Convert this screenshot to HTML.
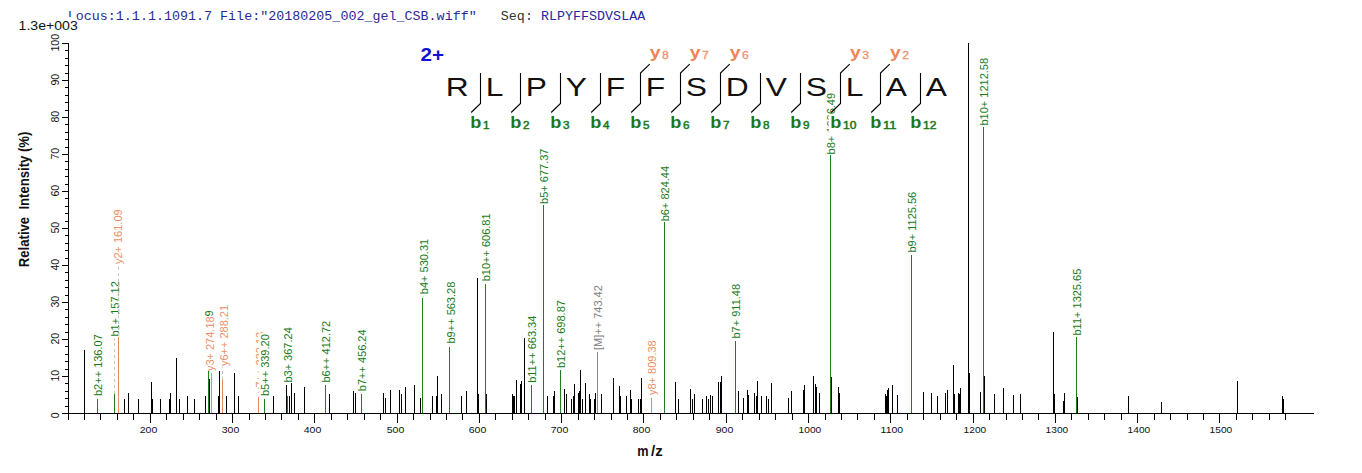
<!DOCTYPE html>
<html><head><meta charset="utf-8"><title>Spectrum</title>
<style>html,body{margin:0;padding:0;background:#fff;}body{width:1362px;height:473px;overflow:hidden;font-family:"Liberation Sans",sans-serif;}svg{display:block;}text{font-family:"Liberation Sans",sans-serif;}.m{font-family:"Liberation Mono",monospace;}</style>
</head><body>
<svg width="1362" height="473" viewBox="0 0 1362 473">
<rect width="1362" height="473" fill="#fff"/>
<text class="m" x="67.70" y="19.8" font-size="13.33" fill="#2a2a96" xml:space="preserve" textLength="409.0" lengthAdjust="spacing">Locus:1.1.1.1091.7 File:&quot;20180205_002_gel_CSB.wiff&quot;</text>
<text class="m" x="500.78" y="19.8" font-size="13.33" fill="#333" xml:space="preserve" textLength="32.1" lengthAdjust="spacing">Seq:</text>
<text class="m" x="540.88" y="19.8" font-size="13.33" fill="#2626a0" xml:space="preserve" textLength="104.3" lengthAdjust="spacing">RLPYFFSDVSLAA</text>
<rect x="17" y="17" width="60" height="15.5" fill="#fff"/>
<text x="18.6" y="30" font-size="12.3" fill="#111" textLength="59.2" lengthAdjust="spacingAndGlyphs">1.3e+003</text>
<g font-size="11">
<rect x="92.3" y="333.2" width="12.5" height="63.8" fill="#fff"/>
<text transform="translate(102.3,396.0) rotate(-90)" fill="#1a7a1a">b2++ 136.07</text>
<rect x="109.2" y="280.1" width="12.5" height="57.4" fill="#fff"/>
<line x1="114.5" y1="394.0" x2="114.5" y2="338.0" stroke="#c4c4c4" stroke-width="1" stroke-dasharray="3,3" shape-rendering="crispEdges"/>
<text transform="translate(119.2,336.5) rotate(-90)" fill="#1a7a1a">b1+ 157.12</text>
<rect x="112.0" y="208.4" width="12.5" height="56.7" fill="#fff"/>
<line x1="118.5" y1="336.0" x2="118.5" y2="265.0" stroke="#c4c4c4" stroke-width="1" stroke-dasharray="3,3" shape-rendering="crispEdges"/>
<text transform="translate(122.0,264.1) rotate(-90)" fill="#ea8f66">y2+ 161.09</text>
<rect x="204.4" y="315.4" width="12.5" height="56.7" fill="#fff"/>
<text transform="translate(214.4,371.1) rotate(-90)" fill="#ea8f66">y3+ 274.18</text>
<rect x="217.8" y="303.9" width="12.5" height="63.2" fill="#fff"/>
<line x1="222.5" y1="380.0" x2="222.5" y2="367.0" stroke="#c4c4c4" stroke-width="1" stroke-dasharray="3,3" shape-rendering="crispEdges"/>
<text transform="translate(227.8,366.1) rotate(-90)" fill="#ea8f66">y6++ 288.21</text>
<rect x="253.5" y="330.8" width="12.5" height="63.2" fill="#fff"/>
<text transform="translate(263.5,393.0) rotate(-90)" fill="#ea8f66">y7++ 332.13</text>
<rect x="258.8" y="333.2" width="12.5" height="63.8" fill="#fff"/>
<text transform="translate(268.8,396.0) rotate(-90)" fill="#1a7a1a">b5++ 339.20</text>
<rect x="282.0" y="326.2" width="12.5" height="57.4" fill="#fff"/>
<text transform="translate(292.0,382.6) rotate(-90)" fill="#1a7a1a">b3+ 367.24</text>
<rect x="320.4" y="319.8" width="12.5" height="63.8" fill="#fff"/>
<text transform="translate(330.4,382.6) rotate(-90)" fill="#1a7a1a">b6++ 412.72</text>
<rect x="356.4" y="328.4" width="12.5" height="63.8" fill="#fff"/>
<text transform="translate(366.4,391.2) rotate(-90)" fill="#1a7a1a">b7++ 456.24</text>
<rect x="417.5" y="237.8" width="12.5" height="57.4" fill="#fff"/>
<text transform="translate(427.5,294.2) rotate(-90)" fill="#1a7a1a">b4+ 530.31</text>
<rect x="444.5" y="280.7" width="12.5" height="63.8" fill="#fff"/>
<text transform="translate(454.5,343.5) rotate(-90)" fill="#1a7a1a">b9++ 563.28</text>
<rect x="480.4" y="212.4" width="12.5" height="69.9" fill="#fff"/>
<text transform="translate(490.4,281.3) rotate(-90)" fill="#1a7a1a">b10++ 606.81</text>
<rect x="526.3" y="313.9" width="12.5" height="69.9" fill="#fff"/>
<text transform="translate(536.3,382.8) rotate(-90)" fill="#1a7a1a">b11++ 663.34</text>
<rect x="538.4" y="147.5" width="12.5" height="57.4" fill="#fff"/>
<text transform="translate(548.4,203.9) rotate(-90)" fill="#1a7a1a">b5+ 677.37</text>
<rect x="555.4" y="299.1" width="12.5" height="69.9" fill="#fff"/>
<text transform="translate(565.4,368.0) rotate(-90)" fill="#1a7a1a">b12++ 698.87</text>
<rect x="592.3" y="284.2" width="12.5" height="66.8" fill="#fff"/>
<text transform="translate(602.3,350.0) rotate(-90)" fill="#808080">[M]++ 743.42</text>
<rect x="646.4" y="339.3" width="12.5" height="56.7" fill="#fff"/>
<text transform="translate(656.4,395.0) rotate(-90)" fill="#ea8f66">y8+ 809.38</text>
<rect x="659.4" y="164.9" width="12.5" height="57.4" fill="#fff"/>
<text transform="translate(669.4,221.3) rotate(-90)" fill="#1a7a1a">b6+ 824.44</text>
<rect x="730.2" y="282.1" width="12.5" height="57.4" fill="#fff"/>
<text transform="translate(740.2,338.5) rotate(-90)" fill="#1a7a1a">b7+ 911.48</text>
<rect x="825.3" y="91.9" width="12.5" height="63.5" fill="#fff"/>
<text transform="translate(835.3,154.4) rotate(-90)" fill="#1a7a1a">b8+ 1026.49</text>
<rect x="906.4" y="190.0" width="12.5" height="63.5" fill="#fff"/>
<text transform="translate(916.4,252.5) rotate(-90)" fill="#1a7a1a">b9+ 1125.56</text>
<rect x="978.3" y="56.9" width="12.5" height="69.6" fill="#fff"/>
<text transform="translate(988.3,125.5) rotate(-90)" fill="#1a7a1a">b10+ 1212.58</text>
<rect x="1071.4" y="266.9" width="12.5" height="69.6" fill="#fff"/>
<text transform="translate(1081.4,335.5) rotate(-90)" fill="#1a7a1a">b11+ 1325.65</text>
<text transform="translate(212.9,316.4) rotate(-90)" fill="#1a7a1a">9</text>
</g>
<g shape-rendering="crispEdges">
<rect x="84" y="350.0" width="1" height="63.0" fill="#000"/>
<rect x="97" y="399.0" width="1" height="14.0" fill="#1e7d1e"/>
<rect x="114" y="394.0" width="1" height="19.0" fill="#1e7d1e"/>
<rect x="118" y="337.0" width="1" height="76.0" fill="#e8895c"/>
<rect x="124" y="399.0" width="1" height="14.0" fill="#000"/>
<rect x="128" y="393.0" width="1" height="20.0" fill="#000"/>
<rect x="138" y="399.0" width="1" height="14.0" fill="#000"/>
<rect x="151" y="382.0" width="1" height="31.0" fill="#000"/>
<rect x="152" y="399.0" width="1" height="14.0" fill="#000"/>
<rect x="160" y="399.0" width="1" height="14.0" fill="#000"/>
<rect x="169" y="399.0" width="1" height="14.0" fill="#000"/>
<rect x="170" y="393.0" width="1" height="20.0" fill="#000"/>
<rect x="176" y="358.0" width="1" height="55.0" fill="#000"/>
<rect x="179" y="399.0" width="1" height="14.0" fill="#000"/>
<rect x="187" y="396.0" width="1" height="17.0" fill="#000"/>
<rect x="194" y="399.0" width="1" height="14.0" fill="#000"/>
<rect x="205" y="396.0" width="1" height="17.0" fill="#000"/>
<rect x="208" y="371.0" width="1" height="42.0" fill="#1e7d1e"/>
<rect x="209" y="379.0" width="1" height="34.0" fill="#000"/>
<rect x="211" y="373.0" width="1" height="40.0" fill="#e8895c"/>
<rect x="218" y="396.0" width="1" height="17.0" fill="#000"/>
<rect x="219" y="371.0" width="1" height="42.0" fill="#000"/>
<rect x="222" y="380.0" width="1" height="33.0" fill="#e8895c"/>
<rect x="226" y="396.0" width="1" height="17.0" fill="#000"/>
<rect x="234" y="373.0" width="1" height="40.0" fill="#000"/>
<rect x="238" y="396.0" width="1" height="17.0" fill="#000"/>
<rect x="258" y="397.0" width="1" height="16.0" fill="#e8895c"/>
<rect x="264" y="399.0" width="1" height="14.0" fill="#1e7d1e"/>
<rect x="273" y="396.0" width="1" height="17.0" fill="#000"/>
<rect x="286" y="385.0" width="1" height="28.0" fill="#000"/>
<rect x="287" y="396.0" width="1" height="17.0" fill="#1e7d1e"/>
<rect x="289" y="396.0" width="1" height="17.0" fill="#000"/>
<rect x="291" y="383.0" width="1" height="30.0" fill="#000"/>
<rect x="294" y="393.0" width="1" height="20.0" fill="#000"/>
<rect x="304" y="387.0" width="1" height="26.0" fill="#000"/>
<rect x="325" y="385.0" width="1" height="28.0" fill="#1e7d1e"/>
<rect x="329" y="394.0" width="1" height="19.0" fill="#000"/>
<rect x="353" y="391.0" width="1" height="22.0" fill="#000"/>
<rect x="355" y="393.0" width="1" height="20.0" fill="#000"/>
<rect x="361" y="394.0" width="1" height="19.0" fill="#1e7d1e"/>
<rect x="383" y="393.0" width="1" height="20.0" fill="#000"/>
<rect x="385" y="398.0" width="1" height="15.0" fill="#000"/>
<rect x="390" y="390.0" width="1" height="23.0" fill="#000"/>
<rect x="399" y="390.0" width="1" height="23.0" fill="#000"/>
<rect x="401" y="394.0" width="1" height="19.0" fill="#000"/>
<rect x="405" y="387.0" width="1" height="26.0" fill="#000"/>
<rect x="414" y="385.0" width="1" height="28.0" fill="#000"/>
<rect x="420" y="398.0" width="1" height="15.0" fill="#000"/>
<rect x="422" y="298.0" width="1" height="115.0" fill="#1e7d1e"/>
<rect x="432" y="396.0" width="1" height="17.0" fill="#000"/>
<rect x="436" y="396.0" width="1" height="17.0" fill="#000"/>
<rect x="437" y="376.0" width="1" height="37.0" fill="#000"/>
<rect x="441" y="394.0" width="1" height="19.0" fill="#000"/>
<rect x="449" y="347.0" width="1" height="66.0" fill="#1e7d1e"/>
<rect x="461" y="396.0" width="1" height="17.0" fill="#000"/>
<rect x="466" y="391.0" width="1" height="22.0" fill="#000"/>
<rect x="477" y="278.0" width="1" height="135.0" fill="#000"/>
<rect x="478" y="394.0" width="1" height="19.0" fill="#000"/>
<rect x="485" y="284.0" width="1" height="129.0" fill="#1e7d1e"/>
<rect x="486" y="394.0" width="1" height="19.0" fill="#000"/>
<rect x="512" y="394.0" width="1" height="19.0" fill="#000"/>
<rect x="513" y="396.0" width="1" height="17.0" fill="#000"/>
<rect x="514" y="396.0" width="1" height="17.0" fill="#000"/>
<rect x="516" y="380.0" width="1" height="33.0" fill="#000"/>
<rect x="520" y="384.0" width="1" height="29.0" fill="#000"/>
<rect x="521" y="381.0" width="1" height="32.0" fill="#000"/>
<rect x="524" y="338.0" width="1" height="75.0" fill="#000"/>
<rect x="531" y="385.0" width="1" height="28.0" fill="#1e7d1e"/>
<rect x="543" y="205.0" width="1" height="208.0" fill="#1e7d1e"/>
<rect x="547" y="396.0" width="1" height="17.0" fill="#000"/>
<rect x="553" y="396.0" width="1" height="17.0" fill="#000"/>
<rect x="554" y="391.0" width="1" height="22.0" fill="#000"/>
<rect x="560" y="370.0" width="1" height="43.0" fill="#1e7d1e"/>
<rect x="564" y="389.0" width="1" height="24.0" fill="#000"/>
<rect x="566" y="394.0" width="1" height="19.0" fill="#000"/>
<rect x="571" y="399.0" width="1" height="14.0" fill="#000"/>
<rect x="573" y="396.0" width="1" height="17.0" fill="#000"/>
<rect x="574" y="384.0" width="1" height="29.0" fill="#000"/>
<rect x="578" y="393.0" width="1" height="20.0" fill="#000"/>
<rect x="579" y="391.0" width="1" height="22.0" fill="#000"/>
<rect x="580" y="370.0" width="1" height="43.0" fill="#000"/>
<rect x="582" y="399.0" width="1" height="14.0" fill="#000"/>
<rect x="585" y="383.0" width="1" height="30.0" fill="#000"/>
<rect x="589" y="394.0" width="1" height="19.0" fill="#000"/>
<rect x="590" y="399.0" width="1" height="14.0" fill="#000"/>
<rect x="594" y="399.0" width="1" height="14.0" fill="#000"/>
<rect x="595" y="393.0" width="1" height="20.0" fill="#000"/>
<rect x="597" y="352.0" width="1" height="61.0" fill="#8a8a8a"/>
<rect x="601" y="394.0" width="1" height="19.0" fill="#000"/>
<rect x="613" y="378.0" width="1" height="35.0" fill="#000"/>
<rect x="619" y="386.0" width="1" height="27.0" fill="#000"/>
<rect x="620" y="396.0" width="1" height="17.0" fill="#000"/>
<rect x="626" y="396.0" width="1" height="17.0" fill="#000"/>
<rect x="630" y="390.0" width="1" height="23.0" fill="#000"/>
<rect x="631" y="399.0" width="1" height="14.0" fill="#000"/>
<rect x="638" y="399.0" width="1" height="14.0" fill="#000"/>
<rect x="640" y="399.0" width="1" height="14.0" fill="#000"/>
<rect x="641" y="378.0" width="1" height="35.0" fill="#000"/>
<rect x="651" y="398.0" width="1" height="15.0" fill="#e8895c"/>
<rect x="664" y="222.0" width="1" height="191.0" fill="#1e7d1e"/>
<rect x="675" y="382.0" width="1" height="31.0" fill="#000"/>
<rect x="678" y="399.0" width="1" height="14.0" fill="#000"/>
<rect x="690" y="389.0" width="1" height="24.0" fill="#000"/>
<rect x="692" y="399.0" width="1" height="14.0" fill="#000"/>
<rect x="694" y="394.0" width="1" height="19.0" fill="#000"/>
<rect x="702" y="399.0" width="1" height="14.0" fill="#000"/>
<rect x="706" y="396.0" width="1" height="17.0" fill="#000"/>
<rect x="708" y="399.0" width="1" height="14.0" fill="#000"/>
<rect x="710" y="395.0" width="1" height="18.0" fill="#000"/>
<rect x="712" y="396.0" width="1" height="17.0" fill="#000"/>
<rect x="718" y="382.0" width="1" height="31.0" fill="#000"/>
<rect x="720" y="382.0" width="1" height="31.0" fill="#000"/>
<rect x="721" y="376.0" width="1" height="37.0" fill="#000"/>
<rect x="735" y="341.0" width="1" height="72.0" fill="#1e7d1e"/>
<rect x="738" y="391.0" width="1" height="22.0" fill="#000"/>
<rect x="743" y="398.0" width="1" height="15.0" fill="#000"/>
<rect x="747" y="390.0" width="1" height="23.0" fill="#000"/>
<rect x="748" y="395.0" width="1" height="18.0" fill="#000"/>
<rect x="754" y="393.0" width="1" height="20.0" fill="#000"/>
<rect x="756" y="396.0" width="1" height="17.0" fill="#000"/>
<rect x="757" y="381.0" width="1" height="32.0" fill="#000"/>
<rect x="761" y="396.0" width="1" height="17.0" fill="#000"/>
<rect x="766" y="396.0" width="1" height="17.0" fill="#000"/>
<rect x="768" y="399.0" width="1" height="14.0" fill="#000"/>
<rect x="771" y="383.0" width="1" height="30.0" fill="#000"/>
<rect x="788" y="398.0" width="1" height="15.0" fill="#000"/>
<rect x="791" y="391.0" width="1" height="22.0" fill="#000"/>
<rect x="803" y="390.0" width="1" height="23.0" fill="#000"/>
<rect x="804" y="385.0" width="1" height="28.0" fill="#000"/>
<rect x="813" y="376.0" width="1" height="37.0" fill="#000"/>
<rect x="815" y="384.0" width="1" height="29.0" fill="#000"/>
<rect x="816" y="387.0" width="1" height="26.0" fill="#000"/>
<rect x="819" y="393.0" width="1" height="20.0" fill="#000"/>
<rect x="830" y="155.0" width="1" height="258.0" fill="#1e7d1e"/>
<rect x="831" y="377.0" width="1" height="36.0" fill="#000"/>
<rect x="838" y="387.0" width="1" height="26.0" fill="#000"/>
<rect x="839" y="393.0" width="1" height="20.0" fill="#000"/>
<rect x="885" y="394.0" width="1" height="19.0" fill="#000"/>
<rect x="886" y="396.0" width="1" height="17.0" fill="#000"/>
<rect x="887" y="390.0" width="1" height="23.0" fill="#000"/>
<rect x="888" y="388.0" width="1" height="25.0" fill="#000"/>
<rect x="892" y="385.0" width="1" height="28.0" fill="#000"/>
<rect x="897" y="395.0" width="1" height="18.0" fill="#000"/>
<rect x="911" y="255.0" width="1" height="158.0" fill="#1e7d1e"/>
<rect x="923" y="392.0" width="1" height="21.0" fill="#000"/>
<rect x="931" y="393.0" width="1" height="20.0" fill="#000"/>
<rect x="937" y="396.0" width="1" height="17.0" fill="#000"/>
<rect x="945" y="393.0" width="1" height="20.0" fill="#000"/>
<rect x="947" y="390.0" width="1" height="23.0" fill="#000"/>
<rect x="953" y="365.0" width="1" height="48.0" fill="#000"/>
<rect x="954" y="394.0" width="1" height="19.0" fill="#000"/>
<rect x="958" y="393.0" width="1" height="20.0" fill="#000"/>
<rect x="959" y="394.0" width="1" height="19.0" fill="#000"/>
<rect x="960" y="388.0" width="1" height="25.0" fill="#000"/>
<rect x="968" y="43.0" width="1" height="370.0" fill="#000"/>
<rect x="969" y="373.0" width="1" height="40.0" fill="#000"/>
<rect x="980" y="392.0" width="1" height="21.0" fill="#000"/>
<rect x="983" y="127.0" width="1" height="286.0" fill="#1e7d1e"/>
<rect x="984" y="376.0" width="1" height="37.0" fill="#000"/>
<rect x="994" y="394.0" width="1" height="19.0" fill="#000"/>
<rect x="1003" y="388.0" width="1" height="25.0" fill="#000"/>
<rect x="1013" y="395.0" width="1" height="18.0" fill="#000"/>
<rect x="1020" y="394.0" width="1" height="19.0" fill="#000"/>
<rect x="1053" y="332.0" width="1" height="81.0" fill="#000"/>
<rect x="1054" y="394.0" width="1" height="19.0" fill="#000"/>
<rect x="1063" y="401.0" width="1" height="12.0" fill="#000"/>
<rect x="1064" y="393.0" width="1" height="20.0" fill="#000"/>
<rect x="1076" y="337.0" width="1" height="76.0" fill="#1e7d1e"/>
<rect x="1077" y="397.0" width="1" height="16.0" fill="#000"/>
<rect x="1128" y="396.0" width="1" height="17.0" fill="#000"/>
<rect x="1161" y="402.0" width="1" height="11.0" fill="#000"/>
<rect x="1237" y="381.0" width="1" height="32.0" fill="#000"/>
<rect x="1282" y="396.0" width="1" height="17.0" fill="#000"/>
<rect x="1283" y="399.0" width="1" height="14.0" fill="#000"/>
<rect x="68" y="43" width="1" height="371" fill="#000"/>
<rect x="62" y="413" width="1252" height="1" fill="#000"/>
<rect x="62" y="413" width="6" height="1" fill="#000"/>
<rect x="65" y="406" width="3" height="1" fill="#000"/>
<rect x="65" y="398" width="3" height="1" fill="#000"/>
<rect x="65" y="391" width="3" height="1" fill="#000"/>
<rect x="65" y="383" width="3" height="1" fill="#000"/>
<rect x="62" y="376" width="6" height="1" fill="#000"/>
<rect x="65" y="369" width="3" height="1" fill="#000"/>
<rect x="65" y="361" width="3" height="1" fill="#000"/>
<rect x="65" y="354" width="3" height="1" fill="#000"/>
<rect x="65" y="346" width="3" height="1" fill="#000"/>
<rect x="62" y="339" width="6" height="1" fill="#000"/>
<rect x="65" y="332" width="3" height="1" fill="#000"/>
<rect x="65" y="324" width="3" height="1" fill="#000"/>
<rect x="65" y="317" width="3" height="1" fill="#000"/>
<rect x="65" y="309" width="3" height="1" fill="#000"/>
<rect x="62" y="302" width="6" height="1" fill="#000"/>
<rect x="65" y="295" width="3" height="1" fill="#000"/>
<rect x="65" y="287" width="3" height="1" fill="#000"/>
<rect x="65" y="280" width="3" height="1" fill="#000"/>
<rect x="65" y="272" width="3" height="1" fill="#000"/>
<rect x="62" y="265" width="6" height="1" fill="#000"/>
<rect x="65" y="258" width="3" height="1" fill="#000"/>
<rect x="65" y="250" width="3" height="1" fill="#000"/>
<rect x="65" y="243" width="3" height="1" fill="#000"/>
<rect x="65" y="235" width="3" height="1" fill="#000"/>
<rect x="62" y="228" width="6" height="1" fill="#000"/>
<rect x="65" y="221" width="3" height="1" fill="#000"/>
<rect x="65" y="213" width="3" height="1" fill="#000"/>
<rect x="65" y="206" width="3" height="1" fill="#000"/>
<rect x="65" y="198" width="3" height="1" fill="#000"/>
<rect x="62" y="191" width="6" height="1" fill="#000"/>
<rect x="65" y="184" width="3" height="1" fill="#000"/>
<rect x="65" y="176" width="3" height="1" fill="#000"/>
<rect x="65" y="169" width="3" height="1" fill="#000"/>
<rect x="65" y="161" width="3" height="1" fill="#000"/>
<rect x="62" y="154" width="6" height="1" fill="#000"/>
<rect x="65" y="147" width="3" height="1" fill="#000"/>
<rect x="65" y="139" width="3" height="1" fill="#000"/>
<rect x="65" y="132" width="3" height="1" fill="#000"/>
<rect x="65" y="124" width="3" height="1" fill="#000"/>
<rect x="62" y="117" width="6" height="1" fill="#000"/>
<rect x="65" y="110" width="3" height="1" fill="#000"/>
<rect x="65" y="102" width="3" height="1" fill="#000"/>
<rect x="65" y="95" width="3" height="1" fill="#000"/>
<rect x="65" y="87" width="3" height="1" fill="#000"/>
<rect x="62" y="80" width="6" height="1" fill="#000"/>
<rect x="65" y="73" width="3" height="1" fill="#000"/>
<rect x="65" y="65" width="3" height="1" fill="#000"/>
<rect x="65" y="58" width="3" height="1" fill="#000"/>
<rect x="65" y="50" width="3" height="1" fill="#000"/>
<rect x="62" y="43" width="6" height="1" fill="#000"/>
<rect x="68" y="414" width="1" height="6" fill="#000"/>
<rect x="84" y="414" width="1" height="6" fill="#000"/>
<rect x="100" y="414" width="1" height="6" fill="#000"/>
<rect x="117" y="414" width="1" height="6" fill="#000"/>
<rect x="133" y="414" width="1" height="6" fill="#000"/>
<rect x="150" y="414" width="1" height="9" fill="#000"/>
<rect x="166" y="414" width="1" height="6" fill="#000"/>
<rect x="183" y="414" width="1" height="6" fill="#000"/>
<rect x="199" y="414" width="1" height="6" fill="#000"/>
<rect x="216" y="414" width="1" height="6" fill="#000"/>
<rect x="232" y="414" width="1" height="9" fill="#000"/>
<rect x="249" y="414" width="1" height="6" fill="#000"/>
<rect x="265" y="414" width="1" height="6" fill="#000"/>
<rect x="281" y="414" width="1" height="6" fill="#000"/>
<rect x="298" y="414" width="1" height="6" fill="#000"/>
<rect x="314" y="414" width="1" height="9" fill="#000"/>
<rect x="331" y="414" width="1" height="6" fill="#000"/>
<rect x="347" y="414" width="1" height="6" fill="#000"/>
<rect x="364" y="414" width="1" height="6" fill="#000"/>
<rect x="380" y="414" width="1" height="6" fill="#000"/>
<rect x="397" y="414" width="1" height="9" fill="#000"/>
<rect x="413" y="414" width="1" height="6" fill="#000"/>
<rect x="430" y="414" width="1" height="6" fill="#000"/>
<rect x="446" y="414" width="1" height="6" fill="#000"/>
<rect x="462" y="414" width="1" height="6" fill="#000"/>
<rect x="479" y="414" width="1" height="9" fill="#000"/>
<rect x="495" y="414" width="1" height="6" fill="#000"/>
<rect x="512" y="414" width="1" height="6" fill="#000"/>
<rect x="528" y="414" width="1" height="6" fill="#000"/>
<rect x="545" y="414" width="1" height="6" fill="#000"/>
<rect x="561" y="414" width="1" height="9" fill="#000"/>
<rect x="578" y="414" width="1" height="6" fill="#000"/>
<rect x="594" y="414" width="1" height="6" fill="#000"/>
<rect x="611" y="414" width="1" height="6" fill="#000"/>
<rect x="627" y="414" width="1" height="6" fill="#000"/>
<rect x="643" y="414" width="1" height="9" fill="#000"/>
<rect x="660" y="414" width="1" height="6" fill="#000"/>
<rect x="676" y="414" width="1" height="6" fill="#000"/>
<rect x="693" y="414" width="1" height="6" fill="#000"/>
<rect x="709" y="414" width="1" height="6" fill="#000"/>
<rect x="726" y="414" width="1" height="9" fill="#000"/>
<rect x="742" y="414" width="1" height="6" fill="#000"/>
<rect x="759" y="414" width="1" height="6" fill="#000"/>
<rect x="775" y="414" width="1" height="6" fill="#000"/>
<rect x="792" y="414" width="1" height="6" fill="#000"/>
<rect x="808" y="414" width="1" height="9" fill="#000"/>
<rect x="825" y="414" width="1" height="6" fill="#000"/>
<rect x="841" y="414" width="1" height="6" fill="#000"/>
<rect x="857" y="414" width="1" height="6" fill="#000"/>
<rect x="874" y="414" width="1" height="6" fill="#000"/>
<rect x="890" y="414" width="1" height="9" fill="#000"/>
<rect x="907" y="414" width="1" height="6" fill="#000"/>
<rect x="923" y="414" width="1" height="6" fill="#000"/>
<rect x="940" y="414" width="1" height="6" fill="#000"/>
<rect x="956" y="414" width="1" height="6" fill="#000"/>
<rect x="973" y="414" width="1" height="9" fill="#000"/>
<rect x="989" y="414" width="1" height="6" fill="#000"/>
<rect x="1006" y="414" width="1" height="6" fill="#000"/>
<rect x="1022" y="414" width="1" height="6" fill="#000"/>
<rect x="1038" y="414" width="1" height="6" fill="#000"/>
<rect x="1055" y="414" width="1" height="9" fill="#000"/>
<rect x="1071" y="414" width="1" height="6" fill="#000"/>
<rect x="1088" y="414" width="1" height="6" fill="#000"/>
<rect x="1104" y="414" width="1" height="6" fill="#000"/>
<rect x="1121" y="414" width="1" height="6" fill="#000"/>
<rect x="1137" y="414" width="1" height="9" fill="#000"/>
<rect x="1154" y="414" width="1" height="6" fill="#000"/>
<rect x="1170" y="414" width="1" height="6" fill="#000"/>
<rect x="1187" y="414" width="1" height="6" fill="#000"/>
<rect x="1203" y="414" width="1" height="6" fill="#000"/>
<rect x="1219" y="414" width="1" height="9" fill="#000"/>
<rect x="1236" y="414" width="1" height="6" fill="#000"/>
<rect x="1252" y="414" width="1" height="6" fill="#000"/>
<rect x="1269" y="414" width="1" height="6" fill="#000"/>
<rect x="1285" y="414" width="1" height="6" fill="#000"/>
</g>
<g font-size="9.6" fill="#111">
<text x="139.7" y="433" textLength="17.6" lengthAdjust="spacingAndGlyphs">200</text>
<text x="221.7" y="433" textLength="17.6" lengthAdjust="spacingAndGlyphs">300</text>
<text x="303.7" y="433" textLength="17.6" lengthAdjust="spacingAndGlyphs">400</text>
<text x="386.7" y="433" textLength="17.6" lengthAdjust="spacingAndGlyphs">500</text>
<text x="468.7" y="433" textLength="17.6" lengthAdjust="spacingAndGlyphs">600</text>
<text x="550.7" y="433" textLength="17.6" lengthAdjust="spacingAndGlyphs">700</text>
<text x="632.7" y="433" textLength="17.6" lengthAdjust="spacingAndGlyphs">800</text>
<text x="715.7" y="433" textLength="17.6" lengthAdjust="spacingAndGlyphs">900</text>
<text x="798.6" y="433" textLength="22.6" lengthAdjust="spacingAndGlyphs">1000</text>
<text x="880.6" y="433" textLength="22.6" lengthAdjust="spacingAndGlyphs">1100</text>
<text x="963.6" y="433" textLength="22.6" lengthAdjust="spacingAndGlyphs">1200</text>
<text x="1045.6" y="433" textLength="22.6" lengthAdjust="spacingAndGlyphs">1300</text>
<text x="1127.6" y="433" textLength="22.6" lengthAdjust="spacingAndGlyphs">1400</text>
<text x="1209.6" y="433" textLength="22.6" lengthAdjust="spacingAndGlyphs">1500</text>
</g>
<g font-size="10" fill="#111" text-anchor="middle">
<text transform="translate(58.7,415.3) rotate(-90)" textLength="5.8" lengthAdjust="spacingAndGlyphs">0</text>
<text transform="translate(58.7,375.7) rotate(-90)" textLength="11.8" lengthAdjust="spacingAndGlyphs">10</text>
<text transform="translate(58.7,338.7) rotate(-90)" textLength="11.8" lengthAdjust="spacingAndGlyphs">20</text>
<text transform="translate(58.7,301.7) rotate(-90)" textLength="11.8" lengthAdjust="spacingAndGlyphs">30</text>
<text transform="translate(58.7,264.7) rotate(-90)" textLength="11.8" lengthAdjust="spacingAndGlyphs">40</text>
<text transform="translate(58.7,227.7) rotate(-90)" textLength="11.8" lengthAdjust="spacingAndGlyphs">50</text>
<text transform="translate(58.7,190.7) rotate(-90)" textLength="11.8" lengthAdjust="spacingAndGlyphs">60</text>
<text transform="translate(58.7,153.7) rotate(-90)" textLength="11.8" lengthAdjust="spacingAndGlyphs">70</text>
<text transform="translate(58.7,116.7) rotate(-90)" textLength="11.8" lengthAdjust="spacingAndGlyphs">80</text>
<text transform="translate(58.7,79.7) rotate(-90)" textLength="11.8" lengthAdjust="spacingAndGlyphs">90</text>
<text transform="translate(58.7,42.7) rotate(-90)" textLength="17.8" lengthAdjust="spacingAndGlyphs">100</text>
</g>
<text transform="translate(29.2,267.2) rotate(-90)" font-size="14" font-weight="bold" fill="#111" xml:space="preserve" textLength="135.6" lengthAdjust="spacingAndGlyphs">Relative  Intensity (%)</text>
<g font-size="15" font-weight="bold" fill="#111">
<text x="637.3" y="455.7" textLength="11.3" lengthAdjust="spacingAndGlyphs">m</text>
<text x="650.9" y="455.7">/</text>
<text x="655.3" y="455.7">z</text>
</g>
<text x="420.5" y="61.2" font-size="18.8" font-weight="bold" fill="#1212d2" textLength="23.6" lengthAdjust="spacingAndGlyphs">2+</text>
<g font-size="25" fill="#111">
<text transform="translate(445.7,95.5) scale(1.270,1)">R</text>
<text transform="translate(485.7,95.5) scale(1.270,1)">L</text>
<text transform="translate(525.7,95.5) scale(1.270,1)">P</text>
<text transform="translate(565.7,95.5) scale(1.270,1)">Y</text>
<text transform="translate(605.7,95.5) scale(1.270,1)">F</text>
<text transform="translate(645.7,95.5) scale(1.270,1)">F</text>
<text transform="translate(685.7,95.5) scale(1.270,1)">S</text>
<text transform="translate(725.7,95.5) scale(1.270,1)">D</text>
<text transform="translate(765.7,95.5) scale(1.270,1)">V</text>
<text transform="translate(805.7,95.5) scale(1.270,1)">S</text>
<text transform="translate(845.7,95.5) scale(1.270,1)">L</text>
<text transform="translate(885.7,95.5) scale(1.270,1)">A</text>
<text transform="translate(925.7,95.5) scale(1.270,1)">A</text>
</g>
<g stroke="#000" stroke-width="1.1" fill="none">
<path d="M471.2,112.5 L480.5,103.5 L480.5,73"/>
<path d="M511.2,112.5 L520.5,103.5 L520.5,73"/>
<path d="M551.2,112.5 L560.5,103.5 L560.5,73"/>
<path d="M591.2,112.5 L600.5,103.5 L600.5,73"/>
<path d="M631.2,112.5 L640.5,103.5 L640.5,73 L649.7,64.2"/>
<path d="M671.2,112.5 L680.5,103.5 L680.5,73 L689.7,64.2"/>
<path d="M711.2,112.5 L720.5,103.5 L720.5,73 L729.7,64.2"/>
<path d="M751.2,112.5 L760.5,103.5 L760.5,73"/>
<path d="M791.2,112.5 L800.5,103.5 L800.5,73"/>
<path d="M831.2,112.5 L840.5,103.5 L840.5,73 L849.7,64.2"/>
<path d="M871.2,112.5 L880.5,103.5 L880.5,73 L889.7,64.2"/>
<path d="M911.2,112.5 L920.5,103.5 L920.5,73"/>
</g>
<rect x="828.6" y="113.8" width="29" height="19.8" fill="#fff"/>
<text x="470.2" y="127.6" font-size="16" font-weight="bold" fill="#1a7a1a" textLength="11.1" lengthAdjust="spacingAndGlyphs">b</text>
<text x="483.1" y="129.2" font-size="11" fill="#1a7a1a" stroke="#1a7a1a" stroke-width="0.5" textLength="6.5" lengthAdjust="spacingAndGlyphs">1</text>
<text x="510.2" y="127.6" font-size="16" font-weight="bold" fill="#1a7a1a" textLength="11.1" lengthAdjust="spacingAndGlyphs">b</text>
<text x="523.1" y="129.2" font-size="11" fill="#1a7a1a" stroke="#1a7a1a" stroke-width="0.5" textLength="6.5" lengthAdjust="spacingAndGlyphs">2</text>
<text x="550.2" y="127.6" font-size="16" font-weight="bold" fill="#1a7a1a" textLength="11.1" lengthAdjust="spacingAndGlyphs">b</text>
<text x="563.1" y="129.2" font-size="11" fill="#1a7a1a" stroke="#1a7a1a" stroke-width="0.5" textLength="6.5" lengthAdjust="spacingAndGlyphs">3</text>
<text x="590.2" y="127.6" font-size="16" font-weight="bold" fill="#1a7a1a" textLength="11.1" lengthAdjust="spacingAndGlyphs">b</text>
<text x="603.1" y="129.2" font-size="11" fill="#1a7a1a" stroke="#1a7a1a" stroke-width="0.5" textLength="6.5" lengthAdjust="spacingAndGlyphs">4</text>
<text x="630.2" y="127.6" font-size="16" font-weight="bold" fill="#1a7a1a" textLength="11.1" lengthAdjust="spacingAndGlyphs">b</text>
<text x="643.1" y="129.2" font-size="11" fill="#1a7a1a" stroke="#1a7a1a" stroke-width="0.5" textLength="6.5" lengthAdjust="spacingAndGlyphs">5</text>
<text x="670.2" y="127.6" font-size="16" font-weight="bold" fill="#1a7a1a" textLength="11.1" lengthAdjust="spacingAndGlyphs">b</text>
<text x="683.1" y="129.2" font-size="11" fill="#1a7a1a" stroke="#1a7a1a" stroke-width="0.5" textLength="6.5" lengthAdjust="spacingAndGlyphs">6</text>
<text x="710.2" y="127.6" font-size="16" font-weight="bold" fill="#1a7a1a" textLength="11.1" lengthAdjust="spacingAndGlyphs">b</text>
<text x="723.1" y="129.2" font-size="11" fill="#1a7a1a" stroke="#1a7a1a" stroke-width="0.5" textLength="6.5" lengthAdjust="spacingAndGlyphs">7</text>
<text x="750.2" y="127.6" font-size="16" font-weight="bold" fill="#1a7a1a" textLength="11.1" lengthAdjust="spacingAndGlyphs">b</text>
<text x="763.1" y="129.2" font-size="11" fill="#1a7a1a" stroke="#1a7a1a" stroke-width="0.5" textLength="6.5" lengthAdjust="spacingAndGlyphs">8</text>
<text x="790.2" y="127.6" font-size="16" font-weight="bold" fill="#1a7a1a" textLength="11.1" lengthAdjust="spacingAndGlyphs">b</text>
<text x="803.1" y="129.2" font-size="11" fill="#1a7a1a" stroke="#1a7a1a" stroke-width="0.5" textLength="6.5" lengthAdjust="spacingAndGlyphs">9</text>
<text x="830.2" y="127.6" font-size="16" font-weight="bold" fill="#1a7a1a" textLength="11.1" lengthAdjust="spacingAndGlyphs">b</text>
<text x="843.1" y="129.2" font-size="11" fill="#1a7a1a" stroke="#1a7a1a" stroke-width="0.5" textLength="13.4" lengthAdjust="spacingAndGlyphs">10</text>
<text x="870.2" y="127.6" font-size="16" font-weight="bold" fill="#1a7a1a" textLength="11.1" lengthAdjust="spacingAndGlyphs">b</text>
<text x="883.1" y="129.2" font-size="11" fill="#1a7a1a" stroke="#1a7a1a" stroke-width="0.5" textLength="13.4" lengthAdjust="spacingAndGlyphs">11</text>
<text x="910.2" y="127.6" font-size="16" font-weight="bold" fill="#1a7a1a" textLength="11.1" lengthAdjust="spacingAndGlyphs">b</text>
<text x="923.1" y="129.2" font-size="11" fill="#1a7a1a" stroke="#1a7a1a" stroke-width="0.5" textLength="13.4" lengthAdjust="spacingAndGlyphs">12</text>
<text x="649.8" y="58.0" font-size="16.5" font-weight="bold" fill="#f08458" textLength="10.8" lengthAdjust="spacingAndGlyphs">y</text>
<text x="662.1" y="58.8" font-size="11.4" fill="#f2936a" stroke="#f2936a" stroke-width="0.3" textLength="6.8" lengthAdjust="spacingAndGlyphs">8</text>
<text x="689.8" y="58.0" font-size="16.5" font-weight="bold" fill="#f08458" textLength="10.8" lengthAdjust="spacingAndGlyphs">y</text>
<text x="702.1" y="58.8" font-size="11.4" fill="#f2936a" stroke="#f2936a" stroke-width="0.3" textLength="6.8" lengthAdjust="spacingAndGlyphs">7</text>
<text x="729.8" y="58.0" font-size="16.5" font-weight="bold" fill="#f08458" textLength="10.8" lengthAdjust="spacingAndGlyphs">y</text>
<text x="742.1" y="58.8" font-size="11.4" fill="#f2936a" stroke="#f2936a" stroke-width="0.3" textLength="6.8" lengthAdjust="spacingAndGlyphs">6</text>
<text x="849.9" y="58.0" font-size="16.5" font-weight="bold" fill="#f08458" textLength="10.8" lengthAdjust="spacingAndGlyphs">y</text>
<text x="862.2" y="58.8" font-size="11.4" fill="#f2936a" stroke="#f2936a" stroke-width="0.3" textLength="6.8" lengthAdjust="spacingAndGlyphs">3</text>
<text x="889.9" y="58.0" font-size="16.5" font-weight="bold" fill="#f08458" textLength="10.8" lengthAdjust="spacingAndGlyphs">y</text>
<text x="902.2" y="58.8" font-size="11.4" fill="#f2936a" stroke="#f2936a" stroke-width="0.3" textLength="6.8" lengthAdjust="spacingAndGlyphs">2</text>
</svg>
</body></html>
